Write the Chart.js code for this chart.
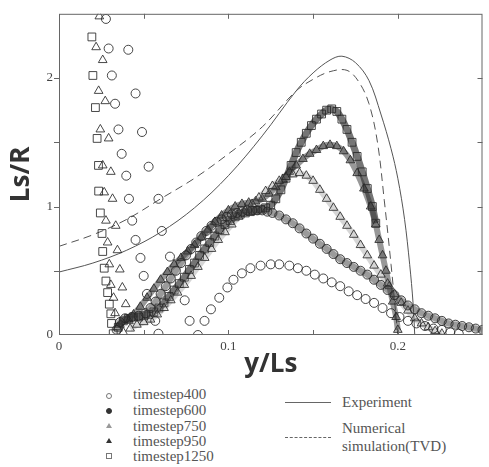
<!DOCTYPE html>
<html>
<head>
<meta charset="utf-8">
<script src="https://cdn.jsdelivr.net/npm/chart.js@4.4.1/dist/chart.umd.min.js"></script>
<style>
  body { margin: 0; background: #fff; }
  #wrap { position: relative; width: 489px; height: 467px; }
  #chart { position: absolute; left: 0; top: 0; }
  .leg { position: absolute; font-family: "Liberation Serif", "DejaVu Serif", serif; font-size: 15px; color: #555; line-height: 16px; }
  .mk { position: absolute; width: 4px; height: 4px; }
</style>
</head>
<body>
<div id="wrap">
  <canvas id="chart" width="489" height="380"></canvas>

  <div class="mk" style="left:106px;top:393px;border:1px solid #777;border-radius:50%;"></div>
  <div class="mk" style="left:106px;top:408px;background:#333;border:1px solid #333;border-radius:50%;"></div>
  <div class="mk" style="left:106px;top:423px;width:0;height:0;border-left:3px solid transparent;border-right:3px solid transparent;border-bottom:5px solid #999;"></div>
  <div class="mk" style="left:106px;top:438px;width:0;height:0;border-left:3px solid transparent;border-right:3px solid transparent;border-bottom:5px solid #333;"></div>
  <div class="mk" style="left:106px;top:453px;border:1px solid #777;"></div>

  <div class="leg" style="left:133px;top:386px;">timestep400</div>
  <div class="leg" style="left:133px;top:402px;">timestep600</div>
  <div class="leg" style="left:133px;top:418px;">timestep750</div>
  <div class="leg" style="left:133px;top:433px;">timestep950</div>
  <div class="leg" style="left:133px;top:448px;">timestep1250</div>

  <div style="position:absolute;left:285px;top:402px;width:46px;border-top:1px solid #666;"></div>
  <div style="position:absolute;left:285px;top:437px;width:46px;border-top:1px dashed #666;"></div>
  <div class="leg" style="left:342px;top:394px;">Experiment</div>
  <div class="leg" style="left:342px;top:420px;">Numerical</div>
  <div class="leg" style="left:342px;top:438px;">simulation(TVD)</div>
</div>

<script>
// Axis ranges and tick labels
const xMax = 0.25;
const yMax = 2.5;
const xLabels = ['0', '0.1', '0.2'];
const yLabels = ['0', '1', '2'];

// Experiment and numerical simulation curves [y/Ls, Ls/R]
const experiment = [[0, 0.49], [0.02, 0.56], [0.04, 0.66], [0.06, 0.8], [0.08, 0.99], [0.1, 1.24],
  [0.12, 1.55], [0.14, 1.9], [0.15, 2.04], [0.16, 2.14], [0.167, 2.17], [0.175, 2.12], [0.183, 1.98],
  [0.19, 1.72], [0.196, 1.45], [0.2, 1.22], [0.204, 0.9], [0.207, 0.55], [0.209, 0.25], [0.21, 0]];

const numerical = [[0, 0.69], [0.02, 0.78], [0.04, 0.9], [0.06, 1.06], [0.08, 1.22], [0.1, 1.41],
  [0.12, 1.62], [0.14, 1.9], [0.15, 1.99], [0.16, 2.05], [0.17, 2.06], [0.177, 1.97], [0.183, 1.8],
  [0.188, 1.5], [0.192, 1.05], [0.196, 0.55], [0.2, 0]];

// Simulation timesteps: scattered column near the wall, then the profile
const ts400Column = [[0.0277, 2.46], [0.0293, 2.23], [0.0409, 2.22], [0.0312, 2.02], [0.0452, 1.88], [0.0331, 1.8],
  [0.0351, 1.6], [0.049, 1.58], [0.037, 1.41], [0.0529, 1.31], [0.0397, 1.24], [0.0413, 1.06], [0.0587, 1.06],
  [0.0432, 0.89], [0.0607, 0.81], [0.0452, 0.74], [0.0655, 0.61], [0.0481, 0.6], [0.05, 0.46], [0.0519, 0.32],
  [0.0742, 0.27], [0.0568, 0.11], [0.0771, 0.11], [0.0587, 0.01], [0.082, 0.0]];
const ts400Curve = [[0.0859, 0.11], [0.0897, 0.2], [0.0946, 0.29], [0.0994, 0.37], [0.103, 0.43], [0.108, 0.48],
  [0.113, 0.52], [0.119, 0.54], [0.125, 0.55], [0.13, 0.55], [0.136, 0.54], [0.141, 0.52], [0.146, 0.5],
  [0.151, 0.47], [0.156, 0.44], [0.161, 0.41], [0.166, 0.38], [0.171, 0.34], [0.176, 0.31], [0.181, 0.28],
  [0.186, 0.25], [0.191, 0.21], [0.196, 0.17], [0.201, 0.14], [0.206, 0.11], [0.211, 0.09], [0.216, 0.07],
  [0.221, 0.05], [0.226, 0.04], [0.231, 0.02], [0.236, 0.01]];

const ts600Curve = [[0.034, 0.04], [0.036, 0.1], [0.039, 0.13], [0.043, 0.14], [0.047, 0.15], [0.051, 0.17],
  [0.054, 0.21], [0.057, 0.26], [0.06, 0.32], [0.063, 0.38], [0.066, 0.44], [0.069, 0.5], [0.072, 0.56],
  [0.075, 0.62], [0.078, 0.67], [0.081, 0.72], [0.084, 0.77], [0.087, 0.81], [0.09, 0.85], [0.093, 0.88],
  [0.096, 0.9], [0.099, 0.92], [0.102, 0.94], [0.105, 0.95], [0.108, 0.96], [0.111, 0.97], [0.114, 0.97],
  [0.117, 0.97], [0.12, 0.97], [0.123, 0.96], [0.126, 0.95], [0.13, 0.93], [0.134, 0.9], [0.138, 0.87],
  [0.142, 0.83], [0.146, 0.79], [0.15, 0.75], [0.154, 0.71], [0.158, 0.67], [0.162, 0.63], [0.166, 0.59],
  [0.17, 0.56], [0.174, 0.53], [0.178, 0.5], [0.182, 0.47], [0.186, 0.43], [0.19, 0.39], [0.194, 0.35],
  [0.198, 0.31], [0.202, 0.27], [0.206, 0.23], [0.21, 0.2], [0.214, 0.17], [0.218, 0.15], [0.222, 0.13],
  [0.226, 0.11], [0.23, 0.09], [0.234, 0.08], [0.238, 0.07], [0.242, 0.06], [0.246, 0.05], [0.25, 0.04]];

const ts750Column = [[0.0238, 2.48], [0.0219, 2.24], [0.0258, 2.14], [0.0234, 1.9], [0.0273, 1.82], [0.0244, 1.6],
  [0.0293, 1.53], [0.0258, 1.32], [0.0306, 1.27], [0.0267, 1.11], [0.0316, 1.06], [0.0277, 0.89], [0.0335, 0.85],
  [0.0287, 0.72], [0.0345, 0.66], [0.0297, 0.55], [0.0359, 0.51], [0.0306, 0.39], [0.0374, 0.37], [0.0322, 0.29],
  [0.0394, 0.24], [0.0331, 0.17], [0.0413, 0.11], [0.0345, 0.06], [0.038, 0.02]];
const ts750Curve = [[0.042, 0.05], [0.046, 0.08], [0.05, 0.1], [0.054, 0.12], [0.058, 0.16], [0.062, 0.21],
  [0.066, 0.27], [0.07, 0.33], [0.074, 0.39], [0.078, 0.46], [0.082, 0.53], [0.086, 0.6], [0.09, 0.67],
  [0.094, 0.74], [0.098, 0.8], [0.102, 0.86], [0.106, 0.92], [0.11, 0.97], [0.114, 1.02], [0.118, 1.07],
  [0.122, 1.12], [0.126, 1.16], [0.13, 1.2], [0.134, 1.23], [0.138, 1.25], [0.142, 1.26], [0.146, 1.24],
  [0.15, 1.2], [0.154, 1.13], [0.158, 1.06], [0.162, 0.99], [0.166, 0.92], [0.17, 0.85], [0.174, 0.78],
  [0.178, 0.7], [0.182, 0.62], [0.186, 0.54], [0.19, 0.47], [0.194, 0.4], [0.198, 0.32], [0.202, 0.25],
  [0.206, 0.19], [0.21, 0.13], [0.214, 0.09], [0.218, 0.06], [0.222, 0.03], [0.226, 0.01]];

const ts950Curve = [[0.036, 0.08], [0.04, 0.12], [0.044, 0.16], [0.048, 0.22], [0.052, 0.29], [0.056, 0.36],
  [0.06, 0.43], [0.064, 0.49], [0.068, 0.55], [0.072, 0.6], [0.076, 0.65], [0.08, 0.7], [0.084, 0.76],
  [0.088, 0.82], [0.092, 0.88], [0.096, 0.93], [0.1, 0.97], [0.104, 1.0], [0.108, 1.02], [0.112, 1.03],
  [0.116, 1.04], [0.12, 1.06], [0.124, 1.1], [0.128, 1.15], [0.132, 1.21], [0.136, 1.27], [0.14, 1.32],
  [0.144, 1.37], [0.148, 1.41], [0.152, 1.44], [0.156, 1.47], [0.16, 1.48], [0.164, 1.47], [0.168, 1.43],
  [0.172, 1.36], [0.176, 1.26], [0.18, 1.14], [0.184, 1.0], [0.187, 0.86], [0.189, 0.74], [0.191, 0.62],
  [0.193, 0.5], [0.195, 0.38], [0.197, 0.26], [0.199, 0.14], [0.2, 0.04]];

const ts1250Column = [[0.0194, 2.32], [0.02, 2.02], [0.0215, 1.77], [0.0225, 1.53], [0.0233, 1.32], [0.0234, 1.12],
  [0.0244, 0.95], [0.0254, 0.79], [0.0258, 0.65], [0.0267, 0.52], [0.0277, 0.42], [0.0287, 0.33],
  [0.0297, 0.24], [0.0306, 0.165], [0.031, 0.09], [0.032, 0.01]];
const ts1250Curve = [[0.035, 0.06], [0.038, 0.11], [0.041, 0.13], [0.044, 0.14], [0.047, 0.14], [0.05, 0.15],
  [0.053, 0.16], [0.056, 0.18], [0.059, 0.21], [0.062, 0.25], [0.065, 0.3], [0.068, 0.35], [0.071, 0.4],
  [0.074, 0.45], [0.077, 0.51], [0.08, 0.56], [0.083, 0.62], [0.086, 0.67], [0.089, 0.72], [0.092, 0.77],
  [0.095, 0.82], [0.098, 0.86], [0.101, 0.89], [0.104, 0.92], [0.107, 0.94], [0.11, 0.95], [0.113, 0.96],
  [0.116, 0.97], [0.119, 0.98], [0.122, 0.99], [0.125, 1.01], [0.128, 1.06], [0.131, 1.13], [0.134, 1.22],
  [0.137, 1.32], [0.14, 1.42], [0.143, 1.5], [0.146, 1.57], [0.149, 1.63], [0.152, 1.68], [0.155, 1.72],
  [0.158, 1.75], [0.161, 1.76], [0.164, 1.74], [0.167, 1.68], [0.17, 1.6], [0.173, 1.5], [0.176, 1.39],
  [0.179, 1.27], [0.182, 1.14], [0.185, 1.0], [0.187, 0.87]];

function pts(arr) {
  return arr.map(p => ({ x: p[0], y: p[1] }));
}

// marker set; band > 0 draws a soft thick trace under the dense profiles
function markers(data, style, fill, radius, band, bandColor) {
  return {
    data: pts(data),
    pointStyle: style,
    pointRadius: radius,
    pointBorderWidth: 1,
    pointBorderColor: 'rgba(40,40,40,0.85)',
    pointBackgroundColor: fill,
    showLine: band > 0,
    borderWidth: band,
    borderColor: bandColor || 'transparent',
    tension: 0.3,
    fill: false
  };
}

function curve(data, dash) {
  return {
    data: pts(data),
    showLine: true,
    borderColor: '#555',
    borderWidth: 1,
    borderDash: dash,
    pointRadius: 0,
    tension: 0.35,
    fill: false
  };
}

// draws the frame and inward ticks on all four sides
const framePlugin = {
  id: 'frame',
  afterDraw(chart) {
    const { ctx, chartArea: a, scales } = chart;
    ctx.save();
    ctx.strokeStyle = '#666';
    ctx.lineWidth = 1;
    ctx.strokeRect(a.left + 0.5, a.top + 0.5, a.right - a.left - 1, a.bottom - a.top - 1);
    ctx.beginPath();
    for (let v = 0.05; v < xMax; v += 0.05) {
      const px = Math.round(scales.x.getPixelForValue(v)) + 0.5;
      ctx.moveTo(px, a.bottom); ctx.lineTo(px, a.bottom - 5);
      ctx.moveTo(px, a.top); ctx.lineTo(px, a.top + 5);
    }
    for (let v = 0.5; v < yMax; v += 0.5) {
      const py = Math.round(scales.y.getPixelForValue(v)) + 0.5;
      ctx.moveTo(a.left, py); ctx.lineTo(a.left - 5, py);
      ctx.moveTo(a.right, py); ctx.lineTo(a.right - 5, py);
    }
    ctx.stroke();
    ctx.restore();
  }
};

const tickFont = { family: '"Liberation Serif", "DejaVu Serif", serif', size: 13 };
const titleFont = { family: '"Open Sans", "DejaVu Sans", sans-serif', size: 26, weight: 'bold' };
const hollow = 'rgba(255,255,255,0)';

new Chart(document.getElementById('chart').getContext('2d'), {
  type: 'scatter',
  data: {
    datasets: [
      markers(ts400Column, 'circle', hollow, 4.5, 0),
      markers(ts750Column, 'triangle', hollow, 5, 0),
      markers(ts1250Column, 'rect', hollow, 5.5, 0),
      markers(ts400Curve, 'circle', hollow, 4.5, 0),
      markers(ts600Curve, 'circle', 'rgba(50,50,50,0.2)', 4.5, 6, 'rgba(70,70,70,0.4)'),
      markers(ts750Curve, 'triangle', hollow, 5, 6, 'rgba(120,120,120,0.3)'),
      markers(ts950Curve, 'triangle', 'rgba(50,50,50,0.3)', 5, 6, 'rgba(50,50,50,0.5)'),
      markers(ts1250Curve, 'rect', hollow, 5.5, 7, 'rgba(25,25,25,0.6)'),
      curve(experiment, []),
      curve(numerical, [8, 5])
    ]
  },
  plugins: [framePlugin],
  options: {
    responsive: false,
    animation: false,
    layout: { padding: { top: 9, right: 2, left: 0, bottom: 0 } },
    plugins: { legend: { display: false }, tooltip: { enabled: false } },
    scales: {
      x: {
        type: 'linear',
        min: 0,
        max: xMax,
        grid: { display: false, drawTicks: false },
        border: { display: false },
        ticks: {
          stepSize: 0.05,
          padding: 4,
          color: '#444',
          font: tickFont,
          maxRotation: 0,
          callback: v => xLabels.find(l => Math.abs(parseFloat(l) - v) < 1e-6) || ''
        },
        title: { display: true, text: 'y/Ls', color: '#333', font: titleFont, padding: 0 },
        afterFit: s => { s.height = 45; }
      },
      y: {
        type: 'linear',
        min: 0,
        max: yMax,
        grid: { display: false, drawTicks: false },
        border: { display: false },
        ticks: {
          stepSize: 0.5,
          padding: 6,
          color: '#444',
          font: tickFont,
          callback: v => yLabels.find(l => Math.abs(parseFloat(l) - v) < 1e-6) || ''
        },
        title: { display: true, text: 'Ls/R', color: '#333', font: titleFont, padding: { top: 6, bottom: 0 } },
        afterFit: s => { s.width = 59; }
      }
    }
  }
});
</script>
</body>
</html>
